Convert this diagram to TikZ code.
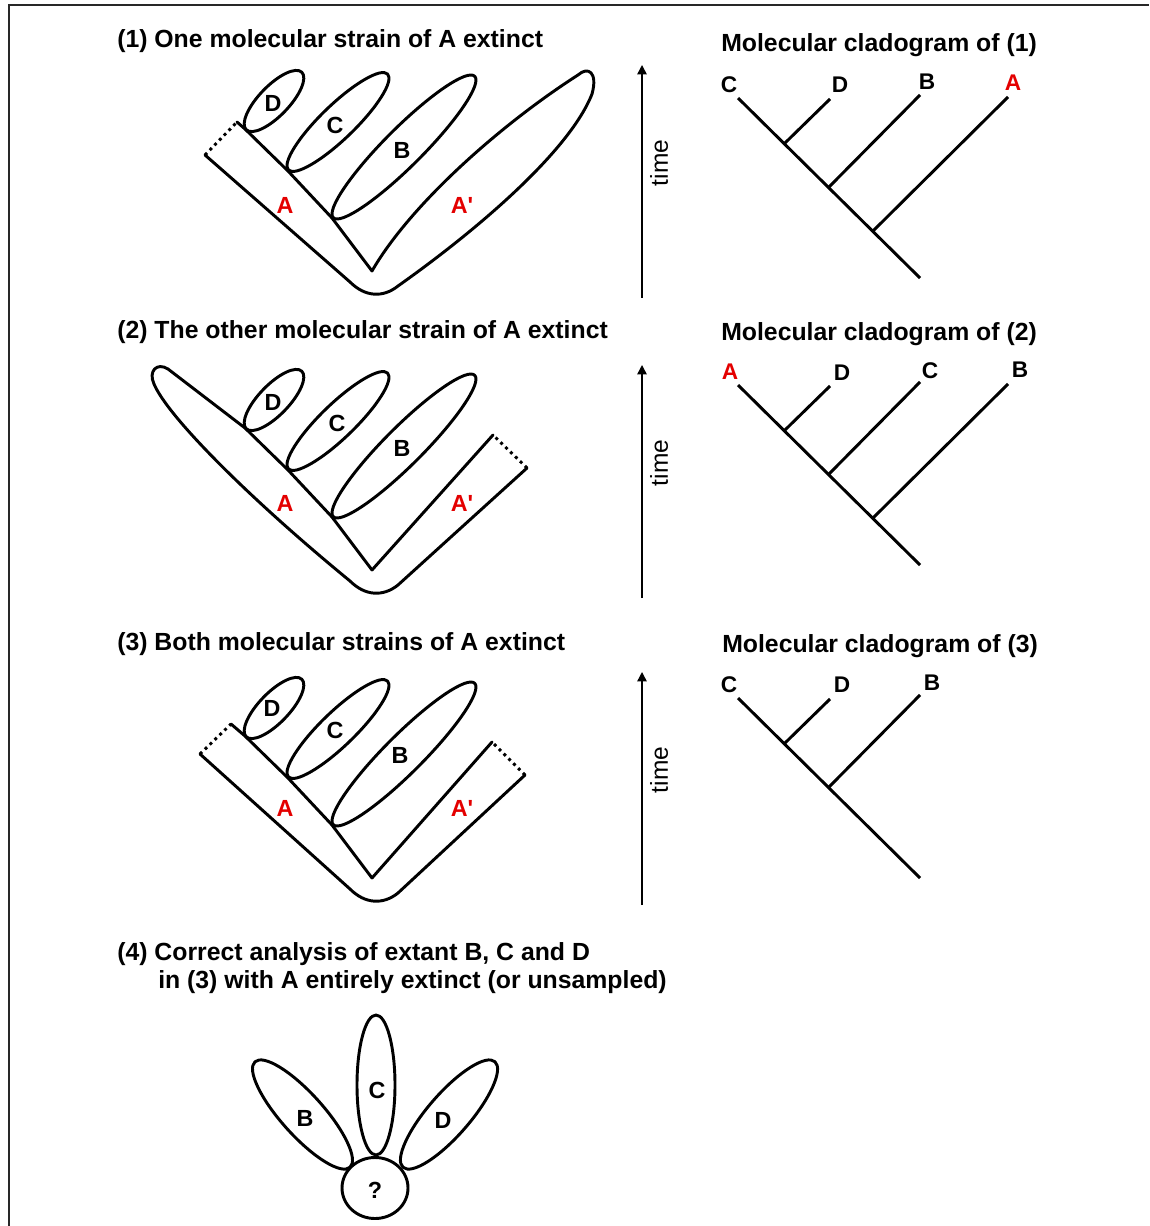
\documentclass[tikz,border=0pt]{standalone}
\usepackage{fontspec}
\setmainfont{Liberation Sans}
\usetikzlibrary{arrows.meta}
\definecolor{taxonred}{RGB}{228,0,0}
\definecolor{framegray}{RGB}{40,40,40}
% one lineage drawn as a rotated ellipse: centre x, centre y, half-length, half-width, angle
\newcommand\lineage[5]{\draw[outline, rotate around={#5:(#1,#2)}] (#1,#2) ellipse [x radius=#3, y radius=#4];}
\newcommand\Aprime{A\textquotesingle}
\begin{document}
\begin{tikzpicture}[x=0.75pt,y=-0.75pt,
  outline/.style={line width=2.2pt, line join=round, line cap=round},
  dotend/.style={line width=2.2pt, dash pattern=on 2.2pt off 2.9pt},
  clade/.style={line width=2.2pt, line cap=butt},
  title/.style={font=\fontsize{18.6}{22}\selectfont\bfseries, inner sep=0pt, anchor=base west},
  taxon/.style={font=\fontsize{17.5}{20}\selectfont\bfseries, inner sep=0pt},
  tiplabel/.style={font=\fontsize{17}{20}\selectfont\bfseries, inner sep=0pt},
  timelabel/.style={font=\fontsize{18.4}{22}\selectfont, inner sep=0pt, rotate=90},
  timeaxis/.style={line width=1.1pt, -{Triangle[length=7pt,width=7pt]}},
]
\useasboundingbox (0,0) rectangle (1149,1226);
\fill[white] (0,0) rectangle (1149,1226);
\draw[line width=1.5pt, framegray] (9,1226) -- (9,5.5) -- (1149,5.5);

% ---------- titles ----------
\node[title] (t1) at (117,48) {(1) One molecular strain of A extinct};
\node[title] (t2) at (117,339) {(2) The other molecular strain of A extinct};
\node[title] (t3) at (117,650) {(3) Both molecular strains of A extinct};
\node[title] (t4a) at (117,960) {(4) Correct analysis of extant B, C and D};
\node[title] (t4b) at (158,988) {in (3) with A entirely extinct (or unsampled)};
\node[title] (m1) at (721,51.5) {Molecular cladogram of (1)};
\node[title] (m2) at (721,340.5) {Molecular cladogram of (2)};
\node[title] (m3) at (722,652.5) {Molecular cladogram of (3)};

% ---------- (1) lineage A' survives, A cut off ----------
\begin{scope}
  \draw[outline] (237,122) -- (245,129) -- (288,171) -- (332,218) -- (372,271)
    .. controls (410,205) and (500,125) .. (578,75)
    .. controls (588,66) and (598,72) .. (592,94)
    .. controls (570,150) and (480,228) .. (398,286)
    .. controls (383,298) and (365,297) .. (350,282) -- (205,155);
  \draw[dotend] (205,155) -- (237,122);
  \lineage{274}{101}{40}{15}{46}
  \lineage{338}{122}{69}{17}{44}
  \lineage{404}{147}{100}{19}{45}
  \node[taxon] (p1D) at (273,103) {D};
  \node[taxon] (p1C) at (335,125) {C};
  \node[taxon] (p1B) at (402,150) {B};
  \node[taxon, taxonred] (p1A) at (285,205) {A};
  \node[taxon, taxonred] (p1A') at (462,205) {\Aprime};
\end{scope}

% ---------- (2) lineage A survives, A' cut off ----------
\begin{scope}[shift={(0,299)}]
  \draw[outline] (493,136) -- (372,271) -- (332,218) -- (288,171) -- (245,129) -- (168,70)
    .. controls (157,63) and (148,72) .. (154,85)
    .. controls (168,118) and (250,200) .. (350,282)
    .. controls (365,297) and (383,298) .. (398,286) -- (527,169);
  \draw[dotend] (527,169) -- (493,136);
  \lineage{274}{101}{40}{15}{46}
  \lineage{338}{122}{69}{17}{44}
  \lineage{404}{147}{100}{19}{45}
  \node[taxon] (p2D) at (273,103) {D};
  \node[taxon] (p2C) at (337,124) {C};
  \node[taxon] (p2B) at (402,149) {B};
  \node[taxon, taxonred] (p2A) at (285,204) {A};
  \node[taxon, taxonred] (p2A') at (462,204) {\Aprime};
\end{scope}

% ---------- (3) both cut off ----------
\begin{scope}[shift={(0,607)}]
  \draw[outline] (492,135) -- (372,271) -- (332,218) -- (288,171) -- (245,129) -- (231,117);
  \draw[outline] (200,147) -- (350,282)
    .. controls (365,297) and (383,298) .. (398,286) -- (525,168);
  \draw[dotend] (200,147) -- (231,117);
  \draw[dotend] (525,168) -- (492,135);
  \lineage{274}{101}{40}{15}{46}
  \lineage{338}{122}{69}{17}{44}
  \lineage{404}{147}{100}{19}{45}
  \node[taxon] (p3D) at (272,101) {D};
  \node[taxon] (p3C) at (335,123) {C};
  \node[taxon] (p3B) at (400,148) {B};
  \node[taxon, taxonred] (p3A) at (285,201) {A};
  \node[taxon, taxonred] (p3A') at (462,201) {\Aprime};
\end{scope}

% ---------- time axes ----------
\foreach \s/\n in {0/1,300/2,607/3}{
  \begin{scope}[shift={(0,\s)}]
    \coordinate (ax\n-lo) at (642,298);
    \coordinate (ax\n-hi) at (642,65);
    \draw[timeaxis] (ax\n-lo) -- (ax\n-hi);
    \node[timelabel] (time\n) at (659,163) {time};
  \end{scope}
}

% ---------- cladograms ----------
\begin{scope}[name prefix=k1-]
  \coordinate (root) at (920,278);
  \coordinate (top) at (738,98);
  \coordinate (j1) at (785,143); \coordinate (e1) at (830,99);
  \coordinate (j2) at (829,187); \coordinate (e2) at (920,95);
  \coordinate (j3) at (873,231); \coordinate (e3) at (1008,97);
  \draw[clade] (root) -- (top);
  \draw[clade] (j1) -- (e1);
  \draw[clade] (j2) -- (e2);
  \draw[clade] (j3) -- (e3);
  \node[tiplabel] (C) at (729,85) {C};
  \node[tiplabel] (D) at (840,85) {D};
  \node[tiplabel] (B) at (927,82) {B};
  \node[tiplabel, taxonred] (A) at (1013,83) {A};
\end{scope}

\begin{scope}[shift={(0,287)}, name prefix=k2-]
  \coordinate (root) at (920,278);
  \coordinate (top) at (738,98);
  \coordinate (j1) at (785,143); \coordinate (e1) at (830,99);
  \coordinate (j2) at (829,187); \coordinate (e2) at (920,95);
  \coordinate (j3) at (873,231); \coordinate (e3) at (1008,97);
  \draw[clade] (root) -- (top);
  \draw[clade] (j1) -- (e1);
  \draw[clade] (j2) -- (e2);
  \draw[clade] (j3) -- (e3);
  \node[tiplabel, taxonred] (A) at (730,85) {A};
  \node[tiplabel] (D) at (842,86) {D};
  \node[tiplabel] (C) at (930,84) {C};
  \node[tiplabel] (B) at (1020,83) {B};
\end{scope}

\begin{scope}[shift={(0,600)}, name prefix=k3-]
  \coordinate (root) at (920,278);
  \coordinate (top) at (738,98);
  \coordinate (j1) at (785,143); \coordinate (e1) at (830,99);
  \coordinate (j2) at (829,187); \coordinate (e2) at (920,95);
  \draw[clade] (root) -- (top);
  \draw[clade] (j1) -- (e1);
  \draw[clade] (j2) -- (e2);
  \node[tiplabel] (C) at (729,85) {C};
  \node[tiplabel] (D) at (842,85) {D};
  \node[tiplabel] (B) at (932,83) {B};
\end{scope}

% ---------- (4) B, C and D from an unknown ancestor ----------
\lineage{302.5}{1114.5}{71}{21}{-48}
\lineage{376}{1085}{19}{70}{0}
\lineage{449}{1114.5}{70}{21}{49}
\draw[outline, fill=white] (375,1188) ellipse [x radius=33, y radius=30.5];
\node[taxon] (q4) at (375,1190) {?};
\node[taxon] (q4B) at (305,1118) {B};
\node[taxon] (q4C) at (377,1090) {C};
\node[taxon] (q4D) at (443,1120) {D};
\end{tikzpicture}
\end{document}
